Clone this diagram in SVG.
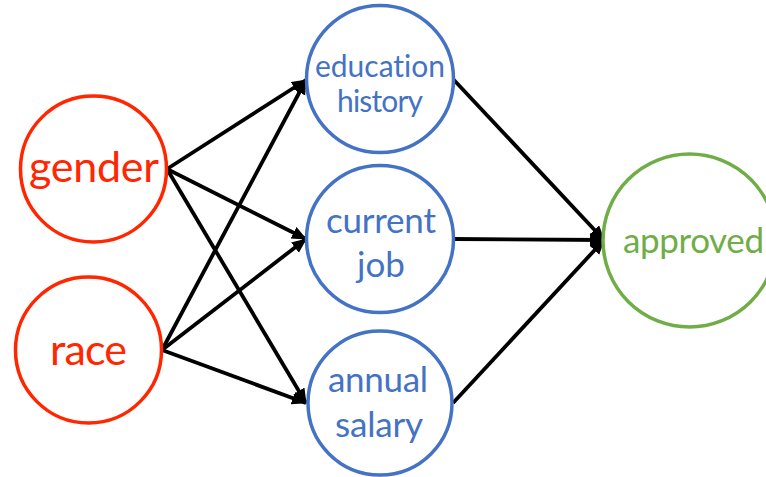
<svg xmlns="http://www.w3.org/2000/svg" width="766" height="477" viewBox="0 0 766 477">
<style>
.n{fill:#fff;stroke-width:3.5}
.red{stroke:#FF2600}.blue{stroke:#4472C4}.green{stroke:#70AD47}
text{font-family:Lato,"Open Sans","Liberation Sans",sans-serif;text-anchor:middle;font-variant-ligatures:none}
.tr{fill:#FF2600;font-size:43px}
.tb{fill:#4472C4;font-size:35px}
.tbs{fill:#4472C4;font-size:30px}
.tg{fill:#70AD47;font-size:35px}
.e{stroke:#000;stroke-width:3.8;fill:none;marker-end:url(#ah)}
</style>
<defs>
<marker id="ah" markerUnits="userSpaceOnUse" markerWidth="16" markerHeight="14" refX="14" refY="6.5" orient="auto">
<path d="M0,0 L15,6.5 L0,13 z" fill="#000"/>
</marker>
</defs>
<rect width="766" height="477" fill="#fff"/>
<g id="connectors">
<line class="e" x1="167" y1="169" x2="306" y2="80"/>
<line class="e" x1="167" y1="169" x2="306" y2="239"/>
<line class="e" x1="167" y1="169" x2="306" y2="403"/>
<line class="e" x1="162" y1="350" x2="306" y2="80"/>
<line class="e" x1="162" y1="350" x2="306" y2="239"/>
<line class="e" x1="162" y1="350" x2="306" y2="403"/>
<line class="e" x1="453" y1="79" x2="604" y2="240"/>
<line class="e" x1="453" y1="239" x2="604" y2="240"/>
<line class="e" x1="453" y1="403" x2="604" y2="240"/>
</g>
<g id="gender">
<circle class="n red" cx="93.5" cy="169" r="73"/>
<text class="tr" x="94" y="182" textLength="130">gender</text>
</g>
<g id="race">
<circle class="n red" cx="88.5" cy="350" r="73"/>
<text class="tr" x="88.5" y="365" textLength="77">race</text>
</g>
<g id="education_history">
<circle class="n blue" cx="380" cy="79" r="73.5"/>
<text class="tbs" x="380" y="77" textLength="130">education</text>
<text class="tbs" x="380" y="112" textLength="86">history</text>
</g>
<g id="current_job">
<circle class="n blue" cx="380" cy="239" r="73.5"/>
<text class="tb" x="381" y="233" textLength="110">current</text>
<text class="tb" x="381" y="277">job</text>
</g>
<g id="annual_salary">
<circle class="n blue" cx="380" cy="403" r="72"/>
<text class="tb" x="378" y="392" textLength="100">annual</text>
<text class="tb" x="379" y="437" textLength="88">salary</text>
</g>
<g id="approved">
<circle class="n green" cx="689.5" cy="240.5" r="86.5"/>
<text class="tg" x="693.5" y="253" textLength="141">approved</text>
</g>
</svg>
